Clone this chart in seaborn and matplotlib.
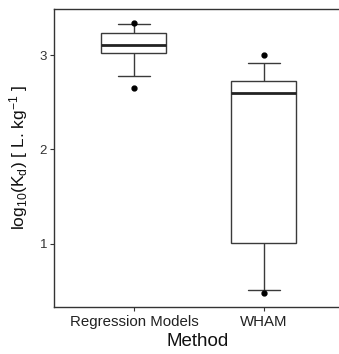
import numpy as np
import pandas as pd
import seaborn as sns
import matplotlib.pyplot as plt

# summary values (log10 Kd)
methods = ["Regression Models", "WHAM"]
y_min = [2.648, 0.478]
whisker_lo = [2.778, 0.513]
q1 = [3.025, 1.007]
median = [3.109, 2.598]
q3 = [3.236, 2.722]
whisker_hi = [3.325, 2.919]
y_max = [3.342, 2.996]

# repeat each summary value so that the 5/25/50/75/95 percentiles land on them
counts = [1, 4, 5, 5, 4, 1, 1]
rows = []
for i, m in enumerate(methods):
    vals = [y_min[i], whisker_lo[i], q1[i], median[i], q3[i], whisker_hi[i], y_max[i]]
    for v in np.repeat(vals, counts):
        rows.append((m, v))
df = pd.DataFrame(rows, columns=["Method", "value"])

sns.set_style("white")
plt.rcParams["font.family"] = ["Liberation Sans", "DejaVu Sans"]
plt.rcParams["mathtext.fontset"] = "custom"
plt.rcParams["mathtext.rm"] = "Liberation Sans"
plt.rcParams["mathtext.it"] = "Liberation Sans:italic"

fig = plt.figure(figsize=(3.39, 3.54), dpi=100)
ax = fig.add_axes([54 / 339, 47 / 354, 288 / 339, 298 / 354])

line = "#3a3a3a"
sns.boxplot(data=df, x="Method", y="value", order=methods, whis=(5, 95),
            width=0.5, color="white", linecolor=line, linewidth=1,
            fliersize=3.5,
            flierprops=dict(marker="o", markerfacecolor="black",
                            markeredgecolor="black"),
            medianprops=dict(linewidth=2, color="#222222"),
            ax=ax)

ax.set_xlim(-0.615, 1.6)
ax.set_ylim(0.333, 3.487)
ax.set_yticks([1, 2, 3])

for side in ["left", "bottom", "top", "right"]:
    ax.spines[side].set_visible(True)
    ax.spines[side].set_color("#333333")
    ax.spines[side].set_linewidth(1)

ax.tick_params(axis="y", length=3, width=0.8, color="#333333",
               labelsize=9.5, labelcolor="#333333", pad=2, left=True)
ax.tick_params(axis="x", length=3, width=0.8, color="#333333",
               labelsize=10.8, labelcolor="#222222", pad=3, bottom=True)

ax.set_xlabel("Method", fontsize=13.5, labelpad=2.5, color="#111111")
ax.set_ylabel(r"log$_\mathrm{10}$(K$_\mathrm{d}$) [ L. kg$^\mathrm{-1}$ ]",
              fontsize=12.5, labelpad=7, color="#111111")

fig.savefig("out.png", dpi=100)
